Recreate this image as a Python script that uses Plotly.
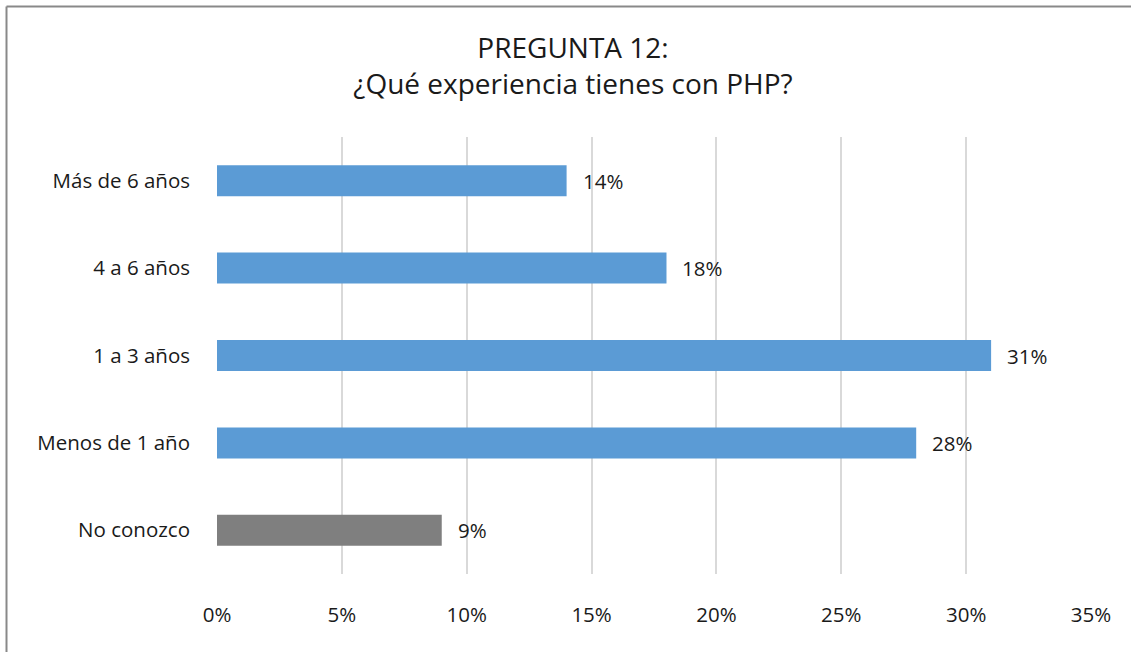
import plotly.graph_objects as go

categories = ["No conozco", "Menos de 1 año", "1 a 3 años", "4 a 6 años", "Más de 6 años"]
values = [9, 28, 31, 18, 14]
bar_colors = ["#7F7F7F", "#5B9BD5", "#5B9BD5", "#5B9BD5", "#5B9BD5"]
tick_vals = [0, 5, 10, 15, 20, 25, 30, 35]
tick_text = ["0%", "5%", "10%", "15%", "20%", "25%", "30%", "35%"]
title_lines = ["PREGUNTA 12:", "¿Qué experiencia tienes con PHP?"]

FONT = "Open Sans"
FS = 20.5
W, H = 1131, 652
ML, MR, MT, MB = 217, 40, 137, 78
PW, PH = W - ML - MR, H - MT - MB

fig = go.Figure()
fig.add_trace(go.Bar(
    y=categories, x=values, orientation="h",
    marker=dict(color=bar_colors, line=dict(width=0)),
    hoverinfo="skip",
))

for c, v in zip(categories, values):
    fig.add_annotation(x=v, y=c, text=f"{v}%", showarrow=False,
                       xanchor="left", xshift=14,
                       font=dict(size=FS, color="#1a1a1a", family=FONT))

bx = (6.5 - ML) / PW
by = 1 + (MT - 6.5) / PH
border = dict(color="#898989", width=2)

fig.update_layout(
    width=W, height=H,
    margin=dict(l=ML, r=MR, t=MT, b=MB),
    paper_bgcolor="white", plot_bgcolor="white",
    bargap=0.645,
    showlegend=False,
    font=dict(family=FONT, size=FS, color="#1a1a1a"),
    title=dict(text="<br>".join(title_lines), x=573 / W, xanchor="center",
               y=1 - 58 / H, yanchor="middle",
               font=dict(size=28, family=FONT, color="#1a1a1a")),
    xaxis=dict(range=[0, 35], tickvals=tick_vals, ticktext=tick_text,
               showgrid=True, gridcolor="#D9D9D9", gridwidth=2,
               zeroline=False, showline=False, ticks="",
               ticklabelstandoff=26, fixedrange=True),
    yaxis=dict(showgrid=False, zeroline=False, showline=False, ticks="",
               ticklabelstandoff=26, fixedrange=True),
    shapes=[
        dict(type="line", xref="paper", yref="paper",
             x0=bx, x1=1 + MR / PW, y0=by, y1=by, line=border, layer="below"),
        dict(type="line", xref="paper", yref="paper",
             x0=bx, x1=bx, y0=-MB / PH, y1=by, line=border, layer="below"),
    ],
)

fig.write_html("out.html",
               config={"displayModeBar": False},
               post_script="document.body.style.margin='0px';document.body.style.overflow='hidden';")
